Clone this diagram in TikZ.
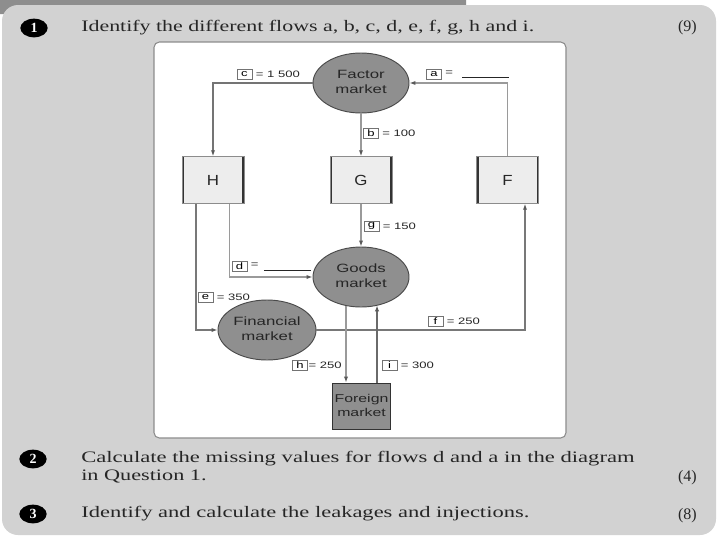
\documentclass[tikz,border=0pt]{standalone}
\usepackage{fontspec}
\setmainfont{Liberation Serif}
\setsansfont{Liberation Sans}
\usetikzlibrary{calc,arrows.meta,shapes.geometric}
\definecolor{panel}{HTML}{D2D2D2}
\definecolor{tabgray}{HTML}{8E8E8E}
\definecolor{mktfill}{HTML}{8F8F8F}
\definecolor{mktdraw}{HTML}{4A4A4A}
\definecolor{boxfill}{HTML}{EDEDED}
\definecolor{flow}{HTML}{9A9A9A}
\definecolor{flowdark}{HTML}{6A6A6A}
\definecolor{qtext}{HTML}{262626}
\newcommand\hs[1]{\scalebox{1.4}[1]{#1}}
\newcommand\twol[2]{\hs{\begin{tabular}{@{}c@{}}#1\\#2\end{tabular}}}
\newcommand\fitw[2]{\resizebox{#1}{\height}{#2}}
\begin{document}
\begin{tikzpicture}[x=0.75pt,y=-0.75pt,
  mkt/.style={ellipse, fill=mktfill, draw=mktdraw, line width=0.7pt, minimum width=72pt, minimum height=45pt, inner sep=0pt, font=\sffamily\fontsize{9}{11.2}\selectfont, text=black!85},
  agent/.style={rectangle, fill=boxfill, draw=black!45, line width=0.6pt, minimum width=46.5pt, minimum height=35pt, inner sep=0pt, font=\sffamily\fontsize{11}{12}\selectfont, text=black!85,
    path picture={\draw[line width=3pt, black!80] (path picture bounding box.north west) -- (path picture bounding box.south west) (path picture bounding box.north east) -- (path picture bounding box.south east);}},
  fmkt/.style={rectangle, fill=mktfill, draw=black!80, line width=0.9pt, minimum width=44pt, minimum height=35pt, inner sep=0pt, font=\sffamily\fontsize{8.5}{11}\selectfont, text=black!85},
  lbox/.style={rectangle, fill=white, draw=black!55, line width=0.5pt, minimum width=11pt, minimum height=7.5pt, inner sep=0pt, font=\sffamily\fontsize{7}{8}\selectfont},
  ltext/.style={inner sep=2.6pt, font=\sffamily\fontsize{7}{8}\selectfont, text=black!85},
  flw/.style={draw=flow, line width=1.1pt, -{Latex[length=4.5pt,width=3.2pt,color=black!65]}},
  bul/.style={ellipse, fill=black, minimum width=20.5pt, minimum height=14pt, inner sep=0pt, text=white, font=\bfseries\fontsize{10.5}{10.5}\selectfont},
  qt/.style={anchor=west, inner sep=0pt, text=qtext, font=\fontsize{12}{14}\selectfont},
  mk/.style={anchor=east, inner sep=0pt, text=qtext, font=\fontsize{12}{14}\selectfont}
]
\useasboundingbox (0,0) rectangle (720,540);
\fill[white] (0,0) rectangle (720,540);
% page panel
\fill[tabgray, rounded corners=6pt] (-10,-10) rectangle (466,14);
\fill[panel, rounded corners=12pt] (2,5) rectangle (716,535);
% diagram frame
\draw[draw=black!45, fill=white, rounded corners=4pt, line width=0.8pt] (154,42) rectangle (566,438);

% questions
\node[bul] (b1) at (34,28) {1};
\node[qt] (q1) at (81,28) {\fitw{339.75pt}{Identify the different flows a, b, c, d, e, f, g, h and i.}};
\node[mk] (m1) at (697,28) {(9)};
\node[bul] (b2) at (33,459) {2};
\node[qt] (q2a) at (81,459) {\fitw{415pt}{Calculate the missing values for flows d and a in the diagram}};
\node[qt] (q2b) at (81,476) {\fitw{94pt}{in Question 1.}};
\node[mk] (m2) at (697,478) {(4)};
\node[bul] (b3) at (33,514) {3};
\node[qt] (q3) at (81,514) {\fitw{336pt}{Identify and calculate the leakages and injections.}};
\node[mk] (m3) at (697,516) {(8)};

% nodes
\node[mkt] (fac) at (361,83) {\twol{Factor}{market}};
\node[agent] (H) at (213,180) {\scalebox{1.15}[1]{H}};
\node[agent] (G) at (361,180) {\scalebox{1.15}[1]{G}};
\node[agent] (F) at (507.5,180) {\scalebox{1.15}[1]{F}};
\node[mkt] (goods) at (361,277) {\twol{Goods}{market}};
\node[mkt, minimum width=73.5pt] (fin) at (267,330) {\twol{Financial}{market}};
\node[fmkt] (fm) at (361.5,406.5) {\twol{Foreign}{market}};

% flows
\draw[flw, draw=flowdark!80!flow] (fac.west) -| (H.north);
\draw[flw] (F.north) |- (fac.east);
\draw[flw] (fac.south) -- (G.north);
\draw[flw] (G.south) -- (goods.north);
\coordinate (Hd) at ($(H.south)+(16.5,0)$);
\coordinate (He) at ($(H.south)+(-17,0)$);
\coordinate (Ff) at ($(F.south)+(17.5,0)$);
\draw[flw] (Hd) |- (goods.west);
\draw[flw, draw=flowdark!70!flow] (He) |- (fin.west);
\draw[flw, draw=flowdark!70!flow] (fin.east) -| (Ff);
\coordinate (gh) at ($(goods.center)+(-15,28.5)$);
\coordinate (fh) at ($(fm.north)+(-15.5,0)$);
\coordinate (gi) at ($(goods.center)+(16,28.3)$);
\coordinate (fi) at ($(fm.north)+(15.5,0)$);
\draw[flw] (gh) -- (fh);
\draw[flw, draw=flowdark] (fi) -- (gi);

% labels
\node[lbox] (lc) at (244.5,74.5) {\hs{c}};
\node[ltext, anchor=west] (tc) at (lc.east) {\hs{= 1 500}};
\node[lbox] (la) at (434,74.5) {\hs{a}};
\node[ltext, anchor=west] (ta) at (la.east) {\hs{=}\hspace{7pt}\rule[-2pt]{35pt}{0.5pt}};
\node[lbox] (lb) at (371,133) {\hs{b}};
\node[ltext, anchor=west] (tb) at (lb.east) {\hs{= 100}};
\node[lbox] (lg) at (371.5,226) {\hs{g}};
\node[ltext, anchor=west] (tg) at (lg.east) {\hs{= 150}};
\node[lbox] (ld) at (239.5,266.5) {\hs{d}};
\node[ltext, anchor=west] (td) at (ld.east) {\hs{=}\hspace{4pt}\rule[-2.5pt]{35pt}{0.5pt}};
\node[lbox] (le) at (205.5,297.5) {\hs{e}};
\node[ltext, anchor=west] (te) at (le.east) {\hs{= 350}};
\node[lbox] (lf) at (435.5,321.5) {\hs{f}};
\node[ltext, anchor=west] (tf) at (lf.east) {\hs{= 250}};
\node[lbox] (lh) at (300,365) {\hs{h}};
\node[ltext, anchor=west, inner sep=0.5pt] (th) at (lh.east) {\hs{= 250}};
\node[lbox] (li) at (389.5,365) {\hs{i}};
\node[ltext, anchor=west] (ti) at (li.east) {\hs{= 300}};
\end{tikzpicture}
\end{document}
